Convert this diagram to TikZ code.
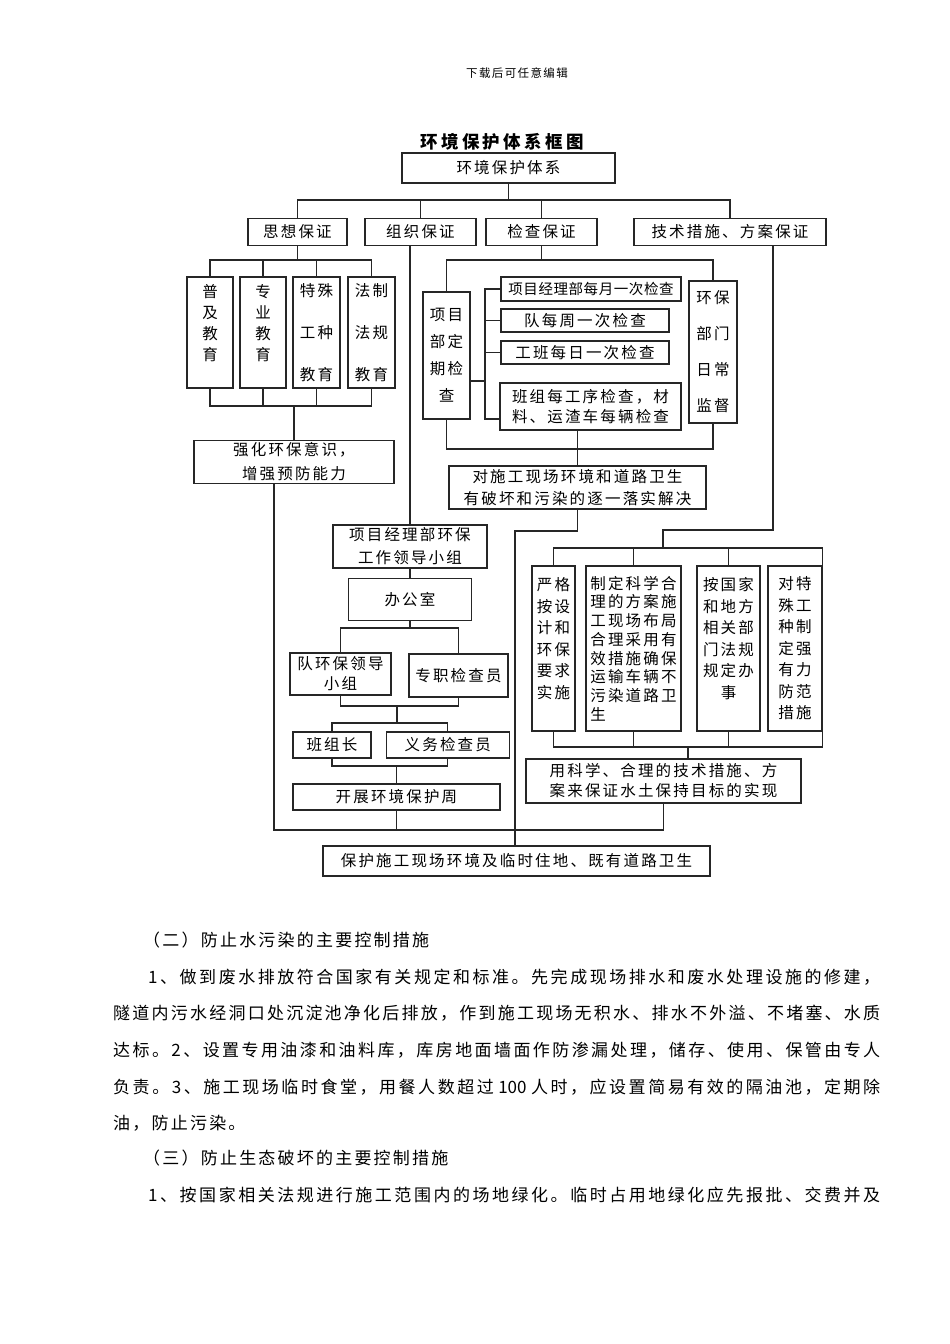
\documentclass[tikz,border=0pt]{standalone}
\usepackage{fontspec}
\usepackage{tikz}
\usetikzlibrary{positioning}
\setmainfont{Noto Sans CJK SC}
\XeTeXinterchartokenstate=1
\newcount\cjkcode
\def\cjkrange#1#2{\cjkcode=#1\relax
  \loop\XeTeXcharclass\cjkcode=7 \advance\cjkcode by 1 \ifnum\cjkcode<#2\relax\repeat}
\cjkrange{"3000}{"3040}
\cjkrange{"4E00}{"A000}
\cjkrange{"FF00}{"FFF0}
\newcommand\cjkgap{0em}
\newcommand\spaced[1]{\def\cjkgap{#1}}
\XeTeXinterchartoks 7 7 = {\hskip\cjkgap plus 1pt}
\XeTeXinterchartoks 0 7 = {\hskip\cjkgap plus 1pt}
\XeTeXinterchartoks 7 0 = {\hskip\cjkgap plus 1pt}
\tikzset{
  block/.style={
    draw=black!85,
    line width=1.3pt,
    align=center,
    inner sep=2pt,
    font=\fontsize{15.5}{21}\selectfont\spaced{0.14em}
  },
  line/.style={draw=black!85, line width=1.3pt},
  para/.style={anchor=west, inner sep=0pt, font=\fontsize{17}{20}\selectfont\spaced{0.13em}}
}

\begin{document}
\begin{tikzpicture}[x=1pt, y=-1pt, node distance=9pt]
        \useasboundingbox (0,0) rectangle (950,1344);
        \node[font=\fontsize{11.5}{14}\selectfont\spaced{0.12em}] (head) at (517,73) {下载后可任意编辑};
        \node[font=\bfseries\fontsize{17.5}{20}\selectfont\spaced{0.19em}] (title) at (502,142) {环境保护体系框图};
        \node[block, minimum width=213pt, minimum height=30pt] (sys) at (508.5,168) {环境保护体系};
        \node[block, minimum width=99pt, minimum height=27pt] (think) at (297.5,232) {思想保证};
        \node[block, minimum width=111pt, minimum height=27pt] (org) at (420.5,232) {组织保证};
        \node[block, minimum width=111pt, minimum height=27pt] (check) at (541.5,232) {检查保证};
        \node[block, minimum width=192pt, minimum height=27pt] (tech) at (730,232) {技术措施、方案保证};
        % education
        \node[block, minimum width=46pt, minimum height=111pt] (edu1) at (210,332.5) {普\\及\\教\\育\\\mbox{}};
        \node[block, minimum width=46pt, minimum height=111pt] (edu2) at (263,332.5) {专\\业\\教\\育\\\mbox{}};
        \node[block, minimum width=47pt, minimum height=111pt] (edu3) at (316.5,332.5) {特殊\\[21pt]工种\\[21pt]教育};
        \node[block, minimum width=47pt, minimum height=111pt] (edu4) at (371.5,332.5) {法制\\[21pt]法规\\[21pt]教育};
        \node[block, minimum width=200pt, minimum height=42pt, font=\fontsize{15.5}{24}\selectfont\spaced{0.14em}] (aware) at (294,462) {强化环保意识，\\增强预防能力};
        % inspection
        \node[block, minimum width=47pt, minimum height=127pt, font=\fontsize{15.5}{27}\selectfont\spaced{0.14em}] (regular) at (446.5,355.5) {项目\\部定\\期检\\查};
        \node[block, minimum width=180pt, minimum height=24pt, font=\fontsize{14.5}{21}\selectfont\spaced{0.04em}] (monthly) at (591,289) {项目经理部每月一次检查};
        \node[block, minimum width=168pt, minimum height=23pt] (weekly) at (585,320.5) {队每周一次检查};
        \node[block, minimum width=168pt, minimum height=23pt] (daily) at (585,352.5) {工班每日一次检查};
        \node[block, minimum width=181pt, minimum height=47pt, font=\fontsize{15.5}{20}\selectfont\spaced{0.14em}] (process) at (590.5,406.5) {班组每工序检查，材\\料、运渣车每辆检查};
        \node[block, minimum width=48pt, minimum height=142pt, font=\fontsize{15.5}{36}\selectfont\spaced{0.14em}] (watch) at (713,352) {环保\\部门\\日常\\监督};
        \node[block, minimum width=257pt, minimum height=43pt, font=\fontsize{15.5}{22}\selectfont\spaced{0.14em}] (solve) at (577.5,487.5) {对施工现场环境和道路卫生\\有破坏和污染的逐一落实解决};
        % organisation
        \node[block, minimum width=154pt, minimum height=43pt, font=\fontsize{15.5}{23}\selectfont\spaced{0.14em}] (group) at (410,546.5) {项目经理部环保\\工作领导小组};
        \node[block, minimum width=123pt, minimum height=42pt, below=of group] (office) {办公室};
        \node[block, minimum width=101pt, minimum height=42pt, font=\fontsize{15.5}{20}\selectfont\spaced{0.14em}] (team) at (340.5,674) {队环保领导\\小组};
        \node[block, minimum width=99pt, minimum height=43pt] (inspector) at (458.5,675.5) {专职检查员};
        \node[block, minimum width=78pt, minimum height=26pt] (leader) at (332,745) {班组长};
        \node[block, minimum width=123pt, minimum height=26pt, right=14pt of leader] (volunteer) {义务检查员};
        \node[block, minimum width=207pt, minimum height=26pt] (week) at (396.5,797) {开展环境保护周};
        % technical measures
        \node[block, minimum width=43pt, minimum height=165pt, font=\fontsize{15.5}{21.5}\selectfont\spaced{0.14em}] (strict) at (553.5,648.5) {严格\\按设\\计和\\环保\\要求\\实施\\\mbox{}};
        \node[block, minimum width=95pt, minimum height=165pt, align=left, font=\fontsize{15.5}{18.7}\selectfont\spaced{0.14em}] (plan) at (633.5,648.5) {制定科学合\\理的方案施\\工现场布局\\合理采用有\\效措施确保\\运输车辆不\\污染道路卫\\生};
        \node[block, minimum width=63pt, minimum height=165pt, font=\fontsize{15.5}{21.5}\selectfont\spaced{0.14em}] (law) at (728.5,648.5) {按国家\\和地方\\相关部\\门法规\\规定办\\事\\\mbox{}};
        \node[block, minimum width=54pt, minimum height=165pt, font=\fontsize{15.5}{21.5}\selectfont\spaced{0.14em}] (special) at (795,648.5) {对特\\殊工\\种制\\定强\\有力\\防范\\措施};
        \node[block, minimum width=275pt, minimum height=44pt, font=\fontsize{15.5}{20}\selectfont\spaced{0.14em}] (soil) at (663.5,781) {用科学、合理的技术措施、方\\案来保证水土保持目标的实现};
        \node[block, minimum width=387pt, minimum height=30pt] (protect) at (516.5,861) {保护施工现场环境及临时住地、既有道路卫生};

        \coordinate (bus) at (508.5,200);
        \coordinate (upper) at (447,260);
        \coordinate (lower) at (294,406);
        \coordinate (checklow) at (447,449);
        \coordinate (fork) at (485,381);
        \coordinate (forkend) at (485,419);
        \coordinate (turn) at (515,531);
        \coordinate (obus1) at (402,628);
        \coordinate (obus2) at (397,706);
        \coordinate (obus3) at (397,723);
        \coordinate (obus4) at (400,766);
        \coordinate (techdrop) at (773,530);
        \coordinate (tbus) at (663,548);
        \coordinate (tlow) at (688,747);
        \coordinate (bottom) at (515,830);

        \draw[line] (sys) -- (bus);
        \draw[line] (think.north) |- (bus) -| (tech.north);
        \draw[line] (org.north) -- (org.north |- bus);
        \draw[line] (check.north) -- (check.north |- bus);

        \draw[line] (think) -- (think |- upper);
        \draw[line] (edu1) |- (edu4 |- upper) -- (edu4);
        \draw[line] (edu2) -- (edu2 |- upper);
        \draw[line] (edu3) -- (edu3 |- upper);
        \draw[line] (edu1) |- (edu4 |- lower) -- (edu4);
        \draw[line] (edu2) -- (edu2 |- lower);
        \draw[line] (edu3) -- (edu3 |- lower);
        \draw[line] (aware) -- (aware |- lower);

        \draw[line] (check) -- (check |- upper);
        \draw[line] (regular) |- (watch |- upper) -- (watch);
        \draw[line] (regular) |- (watch |- checklow) -- (watch);
        \draw[line] (regular.east |- fork) -- (fork);
        \draw[line] (monthly.west) -| (forkend) -- (forkend -| process.west);
        \draw[line] (weekly) -- (weekly -| fork);
        \draw[line] (daily) -- (daily -| fork);
        \draw[line] (solve) -- (solve |- process.south);
        \draw[line] (solve) |- (turn) -- (turn |- protect.north);

        \draw[line] (group) -- (group |- org.south);
        \draw[line] (group) -- (office);
        \draw[line] (office) -- (office |- obus1);
        \draw[line] (team) |- (inspector |- obus1) -- (inspector);
        \draw[line] (team) |- (inspector |- obus2) -- (inspector);
        \draw[line] (obus2) -- (obus3);
        \draw[line] (leader) |- (volunteer |- obus3) -- (volunteer);
        \draw[line] (leader) |- (volunteer |- obus4) -- (volunteer);
        \draw[line] (week) -- (week |- obus4);

        \draw[line] (techdrop |- tech.south) -- (techdrop) -| (tbus);
        \draw[line] (strict) |- (special.north east |- tbus) -- (special.north east);
        \draw[line] (plan) -- (plan |- tbus);
        \draw[line] (law) -- (law |- tbus);
        \draw[line] (strict) |- (special.south east |- tlow) -- (special.south east);
        \draw[line] (plan) -- (plan |- tlow);
        \draw[line] (law) -- (law |- tlow);
        \draw[line] (tlow) -- (tlow |- soil.north);

        \draw[line] ([xshift=-20pt]aware.south) |- (soil |- bottom) -- (soil);
        \draw[line] (week) -- (week |- bottom);

        % text below the chart
        \node[para] (sec2) at (143,940) {（二）防止水污染的主要控制措施};
        \node[para] (item1) at (148,977) {\hbox to 732pt{1、做到废水排放符合国家有关规定和标准。先完成现场排水和废水处理设施的修建，}};
        \node[para] (item1b) at (113,1013) {\hbox to 767pt{隧道内污水经洞口处沉淀池净化后排放，作到施工现场无积水、排水不外溢、不堵塞、水质}};
        \node[para] (item2) at (113,1050) {\hbox to 767pt{达标。2、设置专用油漆和油料库，库房地面墙面作防渗漏处理，储存、使用、保管由专人}};
        \node[para] (item3) at (113,1087) {\hbox to 767pt{负责。3、施工现场临时食堂，用餐人数超过 100 人时，应设置简易有效的隔油池，定期除}};
        \node[para] (item3b) at (113,1123) {油，防止污染。};
        \node[para] (sec3) at (143,1158) {（三）防止生态破坏的主要控制措施};
        \node[para] (green) at (148,1195) {\hbox to 732pt{1、按国家相关法规进行施工范围内的场地绿化。临时占用地绿化应先报批、交费并及}};
      \end{tikzpicture}
\end{document}
